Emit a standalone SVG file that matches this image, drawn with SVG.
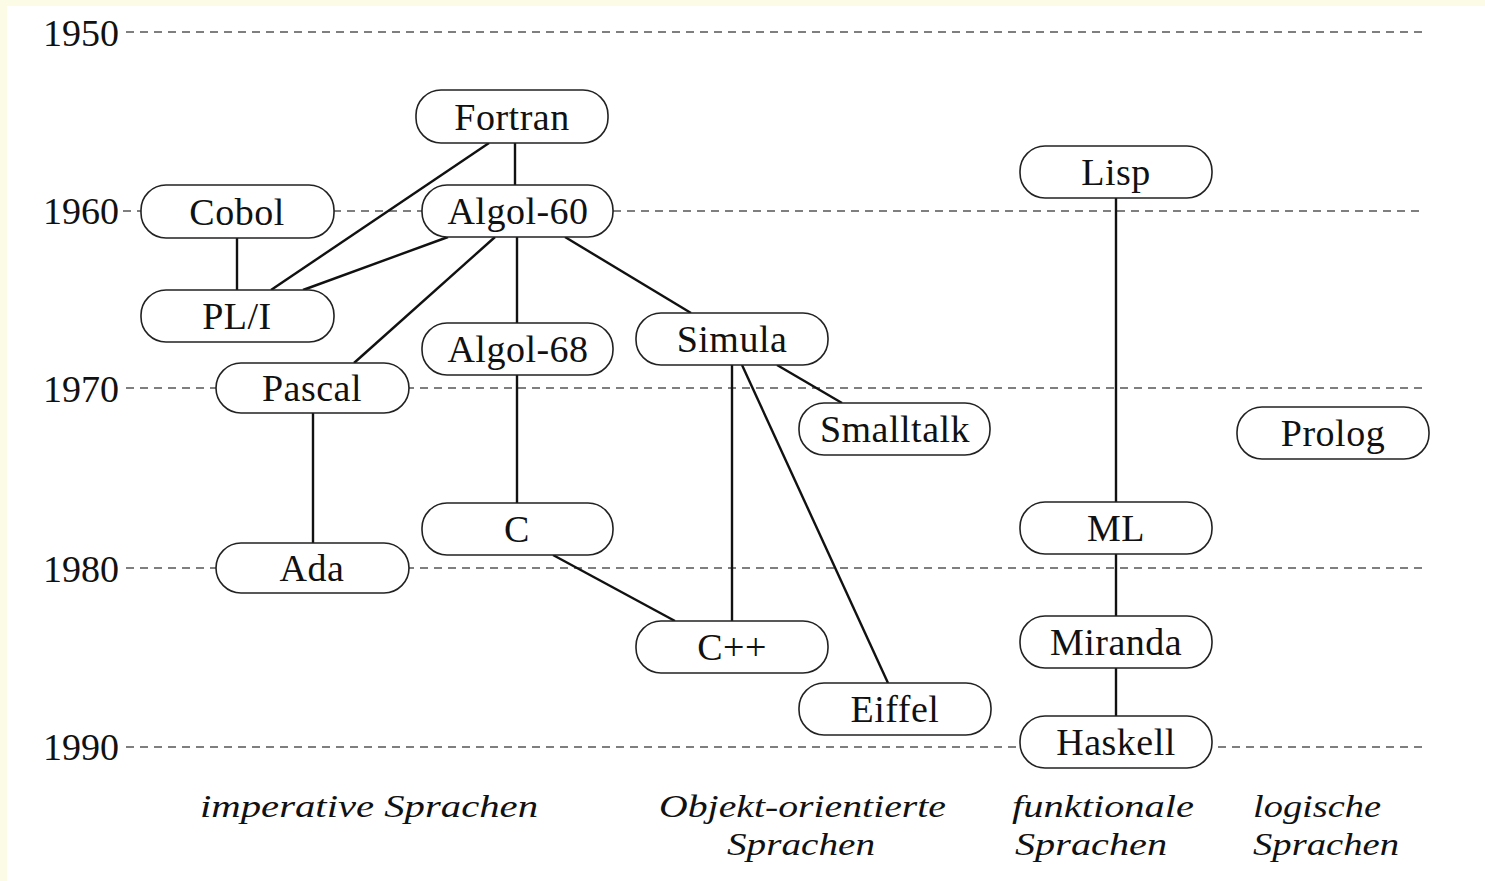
<svg xmlns="http://www.w3.org/2000/svg" width="1485" height="881" viewBox="0 0 1485 881">
<style>
.yr{font-family:"Liberation Serif","Times New Roman",serif;font-size:38px;fill:#111;text-anchor:end}
.grid{stroke:#555;stroke-width:1.6;stroke-dasharray:8 6;fill:none}
.node rect{fill:#fff;stroke:#222;stroke-width:1.6}
.node text{font-family:"Liberation Serif","Times New Roman",serif;font-size:38px;fill:#111;text-anchor:middle;letter-spacing:0.5px}
.edge{stroke:#111;stroke-width:2.4;fill:none}
.cat{font-family:"Liberation Serif","Times New Roman",serif;font-style:italic;font-size:32px;fill:#111}
</style>
<rect x="0" y="0" width="1485" height="881" fill="#fbfbe6"/>
<rect x="7" y="6" width="1478" height="875" fill="#fff"/>
<g id="timeline">
<text class="yr" x="119" y="46">1950</text>
<text class="yr" x="119" y="224">1960</text>
<text class="yr" x="119" y="402">1970</text>
<text class="yr" x="119" y="582">1980</text>
<text class="yr" x="119" y="760">1990</text>
<line class="grid" x1="126" y1="32" x2="1422" y2="32"/>
<line class="grid" x1="123" y1="211" x2="1422" y2="211"/>
<line class="grid" x1="126" y1="388" x2="1422" y2="388"/>
<line class="grid" x1="126" y1="568" x2="1422" y2="568"/>
<line class="grid" x1="126" y1="747" x2="1422" y2="747"/>
</g>
<g id="connectors">
<line class="edge" x1="515" y1="143" x2="515" y2="185"/>
<line class="edge" x1="489" y1="143" x2="271" y2="290"/>
<line class="edge" x1="237" y1="238" x2="237" y2="290"/>
<line class="edge" x1="448" y1="237" x2="303" y2="290"/>
<line class="edge" x1="495" y1="237" x2="354" y2="363"/>
<line class="edge" x1="517" y1="237" x2="517" y2="323"/>
<line class="edge" x1="565" y1="237" x2="691" y2="313"/>
<line class="edge" x1="517" y1="375" x2="517" y2="503"/>
<line class="edge" x1="313" y1="413" x2="313" y2="543"/>
<line class="edge" x1="777" y1="365" x2="842" y2="403"/>
<line class="edge" x1="732" y1="365" x2="732" y2="621"/>
<line class="edge" x1="742" y1="365" x2="888" y2="683"/>
<line class="edge" x1="553" y1="555" x2="675" y2="621"/>
<line class="edge" x1="1116" y1="198" x2="1116" y2="502"/>
<line class="edge" x1="1116" y1="554" x2="1116" y2="616"/>
<line class="edge" x1="1116" y1="668" x2="1116" y2="716"/>
</g>
<g id="fortran" class="node"><rect x="416" y="90" width="192" height="53" rx="25"/><text x="512" y="130">Fortran</text></g>
<g id="cobol" class="node"><rect x="141" y="185" width="193" height="53" rx="25"/><text x="237" y="225">Cobol</text></g>
<g id="algol60" class="node"><rect x="422" y="185" width="191" height="52" rx="25"/><text x="518" y="224">Algol-60</text></g>
<g id="lisp" class="node"><rect x="1020" y="146" width="192" height="52" rx="25"/><text x="1116" y="185">Lisp</text></g>
<g id="pl1" class="node"><rect x="141" y="290" width="193" height="52" rx="25"/><text x="237" y="329">PL/I</text></g>
<g id="algol68" class="node"><rect x="422" y="323" width="191" height="52" rx="25"/><text x="518" y="362">Algol-68</text></g>
<g id="simula" class="node"><rect x="636" y="313" width="192" height="52" rx="25"/><text x="732" y="352">Simula</text></g>
<g id="pascal" class="node"><rect x="216" y="363" width="193" height="50" rx="25"/><text x="312" y="401">Pascal</text></g>
<g id="smalltalk" class="node"><rect x="799" y="403" width="191" height="52" rx="25"/><text x="895" y="442">Smalltalk</text></g>
<g id="prolog" class="node"><rect x="1237" y="407" width="192" height="52" rx="25"/><text x="1333" y="446">Prolog</text></g>
<g id="c" class="node"><rect x="422" y="503" width="191" height="52" rx="25"/><text x="517" y="542">C</text></g>
<g id="ml" class="node"><rect x="1020" y="502" width="192" height="52" rx="25"/><text x="1116" y="541">ML</text></g>
<g id="ada" class="node"><rect x="216" y="543" width="193" height="50" rx="25"/><text x="312" y="581">Ada</text></g>
<g id="cpp" class="node"><rect x="636" y="621" width="192" height="52" rx="25"/><text x="732" y="660">C++</text></g>
<g id="miranda" class="node"><rect x="1020" y="616" width="192" height="52" rx="25"/><text x="1116" y="655">Miranda</text></g>
<g id="eiffel" class="node"><rect x="799" y="683" width="192" height="52" rx="25"/><text x="895" y="722">Eiffel</text></g>
<g id="haskell" class="node"><rect x="1020" y="716" width="192" height="52" rx="25"/><text x="1116" y="755">Haskell</text></g>
<g id="categories">
<text class="cat" x="200" y="817" textLength="338" lengthAdjust="spacingAndGlyphs">imperative Sprachen</text>
<text class="cat" x="659" y="817" textLength="287" lengthAdjust="spacingAndGlyphs">Objekt-orientierte</text>
<text class="cat" x="727" y="855" textLength="148" lengthAdjust="spacingAndGlyphs">Sprachen</text>
<text class="cat" x="1012" y="817" textLength="182" lengthAdjust="spacingAndGlyphs">funktionale</text>
<text class="cat" x="1015" y="855" textLength="152" lengthAdjust="spacingAndGlyphs">Sprachen</text>
<text class="cat" x="1253" y="817" textLength="128" lengthAdjust="spacingAndGlyphs">logische</text>
<text class="cat" x="1253" y="855" textLength="146" lengthAdjust="spacingAndGlyphs">Sprachen</text>
</g>
</svg>
